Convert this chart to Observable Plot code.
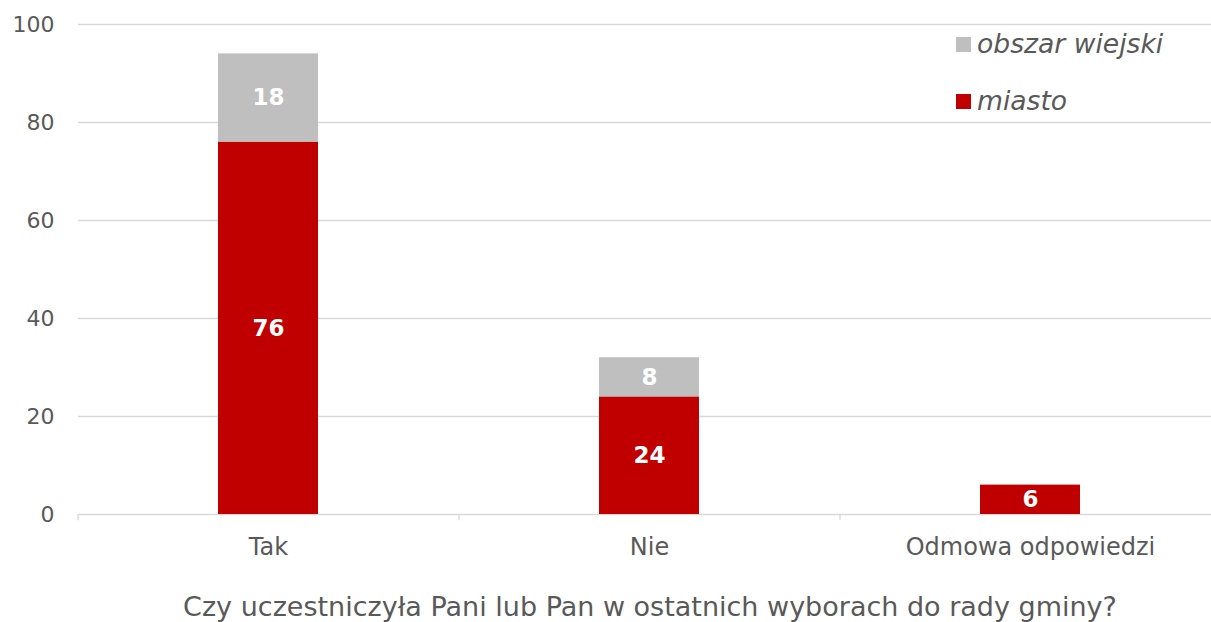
<!DOCTYPE html>
<html><head><meta charset="utf-8">
<script src="https://cdn.jsdelivr.net/npm/d3@7"></script>
<script src="https://cdn.jsdelivr.net/npm/@observablehq/plot@0.6"></script>
<style>
body{margin:0;background:#fff;font-family:"DejaVu Sans",Verdana,sans-serif;}
#wrap{position:relative;width:1211px;height:622px;}
.lg{position:absolute;left:956px;font:italic 26.6px "DejaVu Sans";color:#595959;white-space:nowrap;line-height:26px;}
.lg .sw{position:absolute;left:0;width:15px;height:15px;}
.lg .tx{position:absolute;left:21px;top:4px;}
</style></head>
<body><div id="wrap"></div>
<script>
const categories = ["Tak", "Nie", "Odmowa odpowiedzi"];
const seriesNames = ["obszar wiejski", "miasto"];
const seriesColors = ["#bfbfbf", "#c00000"];
const miasto = [76, 24, 6];
const obszarWiejski = [18, 8, 0];
const yTicks = [0, 20, 40, 60, 80, 100];
const axisTitle = "Czy uczestniczyła Pani lub Pan w ostatnich wyborach do rady gminy?";

const rows = [];
categories.forEach((c, i) => {
  rows.push({cat: c, series: "miasto", value: miasto[i]});
  rows.push({cat: c, series: "obszar wiejski", value: obszarWiejski[i]});
});
const stackOrder = ["miasto", "obszar wiejski"];

const W = 1211, H = 622, ML = 78, MT = 24, MB = 108;
const step = 381;
const xEnd = ML + step * categories.length;

const chart = Plot.plot({
  width: W, height: H,
  marginLeft: ML, marginRight: 0, marginTop: MT, marginBottom: MB,
  style: {fontFamily: "DejaVu Sans, Verdana, sans-serif", color: "#595959", background: "#fff"},
  x: {domain: categories, range: [ML, xEnd], paddingInner: 0.7375, paddingOuter: 0.36875},
  y: {domain: [0, 100]},
  color: {domain: seriesNames, range: seriesColors},
  marks: [
    Plot.ruleY(yTicks, {stroke: "#d9d9d9", strokeWidth: 1.3}),
    Plot.ruleX(categories, {x: d => d, y1: 0, y2: -1.3, dx: -step / 2, stroke: "#d9d9d9", strokeWidth: 1.3}),
    Plot.barY(rows, {x: "cat", y: "value", fill: "series", order: stackOrder}),
    Plot.text(rows.filter(d => d.value > 0), Plot.stackY({x: "cat", y: "value", z: "series", order: stackOrder, text: d => String(d.value), fill: "white", fontWeight: "bold", fontSize: 23})),
    Plot.axisY({ticks: yTicks, tickSize: 0, tickPadding: 24, fontSize: 22, label: null}),
    Plot.axisX({tickSize: 0, tickPadding: 23, fontSize: 24, label: null}),
    Plot.text([axisTitle], {text: d => d, frameAnchor: "bottom", lineAnchor: "middle", dy: 93, dx: (xEnd - W) / 2, fontSize: 27, fill: "#595959"})
  ]
});
const wrap = document.getElementById("wrap");
wrap.appendChild(chart);

const legendTops = [27, 84];
seriesNames.forEach((s, i) => {
  const d = document.createElement("div");
  d.className = "lg";
  d.style.top = legendTops[i] + "px";
  d.innerHTML = `<span class="sw" style="background:${seriesColors[i]};top:10px"></span><span class="tx">${s}</span>`;
  wrap.appendChild(d);
});
</script></body></html>
